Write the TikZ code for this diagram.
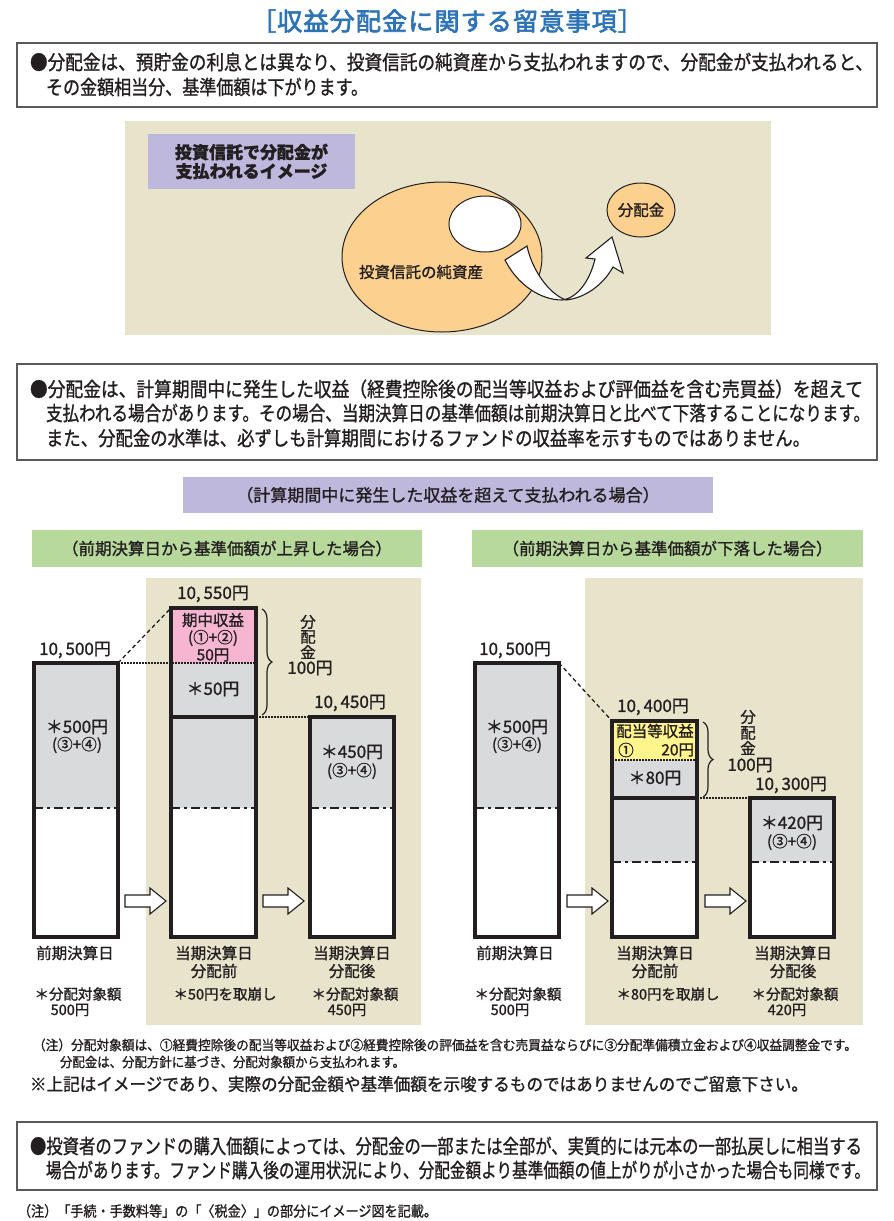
\documentclass[tikz,border=0pt]{standalone}
\usepackage{fontspec}
\setmainfont{Noto Sans CJK JP}[RawFeature={embolden=1.2}]
\newfontfamily\titlefont{Noto Sans CJK JP}[LetterSpace=4, RawFeature={embolden=2.5}]
\usetikzlibrary{shapes.geometric,decorations.pathreplacing}
\definecolor{titleblue}{HTML}{2D73B6}
\definecolor{beige}{HTML}{E8E4CC}
\definecolor{lav}{HTML}{BDB8DC}
\definecolor{orng}{HTML}{FCD08E}
\definecolor{grn}{HTML}{B8D99C}
\definecolor{bargrey}{HTML}{D9DADC}
\definecolor{pnk}{HTML}{F6B6D2}
\definecolor{ylw}{HTML}{FFF58C}
\definecolor{ink}{HTML}{231F20}
\definecolor{boxline}{HTML}{5A5A5A}
\newcommand\fs[2]{\fontsize{#1}{#2}\selectfont}
\newcommand\fitw[2]{\resizebox{#1pt}{\height}{#2}}
\begin{document}
\begin{tikzpicture}[x=1pt,y=-1pt,
  every node/.style={inner sep=0pt, outer sep=0pt, text=ink},
  box/.style={draw=boxline, line width=1.2pt, rectangle, anchor=north west},
  barframe/.style={draw=ink, line width=3.2pt, rectangle, anchor=north west},
  sepline/.style={draw=ink, line width=3.2pt},
  dashdot/.style={draw=ink, line width=2.4pt, dash pattern=on 9pt off 4pt on 3pt off 4pt},
  dotline/.style={draw=ink, line width=1.5pt, dash pattern=on 1.5pt off 1.5pt},
  dashline/.style={draw=ink, line width=1.3pt, dash pattern=on 4pt off 3pt},
  harrow/.style={draw=ink, fill=white, line width=1.1pt, line join=miter},
  bracedeco/.style={draw=ink, line width=1.2pt, decorate, decoration={brace, amplitude=10pt}},
  lbl/.style={font=\fs{15.5}{18}},
  num/.style={font=\fs{17}{18}},
  note/.style={font=\fs{14.5}{16}},
  boxtxt/.style={font=\fs{20}{20}, anchor=west},
]
\useasboundingbox (0,0) rectangle (894,1221);
\fill[white] (0,0) rectangle (894,1221);

% ---------- title ----------
\node[font=\titlefont\fs{25}{26}, text=titleblue] (title) at (447,21) {\fitw{392}{［収益分配金に関する留意事項］}};

% ---------- box 1 ----------
\node[box, minimum width=860, minimum height=64] (box1) at (17,43) {};
\node[boxtxt] (b1l1) at (30,62) {\fitw{843}{●分配金は、預貯金の利息とは異なり、投資信託の純資産から支払われますので、分配金が支払われると、}};
\node[boxtxt] (b1l2) at (46,87) {\fitw{322}{その金額相当分、基準価額は下がります。}};

% ---------- image panel ----------
\fill[beige] (125,121) rectangle (771,335);
\node[fill=lav, minimum width=207, minimum height=55, anchor=north west, align=center, font=\bfseries\fs{17}{19}] (imgtitle) at (148,134) {投資信託で分配金が\\支払われるイメージ};
\node[ellipse, draw=ink, line width=1pt, fill=orng, minimum width=200, minimum height=150] (nav) at (442,257) {};
\node[ellipse, draw=ink, line width=1pt, fill=white, minimum width=72, minimum height=56] (hole) at (485,224) {};
\node[font=\fs{15.5}{16}] (navlbl) at (421,272) {投資信託の純資産};
\node[ellipse, draw=ink, line width=1pt, fill=orng, minimum width=68, minimum height=54, font=\fs{15.5}{16}] (div) at (641,210) {分配金};
\draw[harrow] (505,260) .. controls (517,284) and (540,300) .. (562,300)
  .. controls (578,298) and (590,280) .. (595,259) -- (586,258) -- (612,237) -- (623,273) -- (613,267)
  .. controls (603,285) and (585,298) .. (566,300)
  .. controls (549,294) and (532,270) .. (527,246) -- cycle;

% ---------- box 2 ----------
\node[box, minimum width=860, minimum height=96] (box2) at (17,364) {};
\node[boxtxt] (b2l1) at (30,389) {\fitw{833}{●分配金は、計算期間中に発生した収益（経費控除後の配当等収益および評価益を含む売買益）を超えて}};
\node[boxtxt] (b2l2) at (46,413) {\fitw{824}{支払われる場合があります。その場合、当期決算日の基準価額は前期決算日と比べて下落することになります。}};
\node[boxtxt] (b2l3) at (46,438) {\fitw{764}{また、分配金の水準は、必ずしも計算期間におけるファンドの収益率を示すものではありません。}};

% ---------- headers ----------
\node[fill=lav, minimum width=530, minimum height=36, anchor=north west, font=\fs{17}{18}] (hcase) at (183,477) {（計算期間中に発生した収益を超えて支払われる場合）};
\node[fill=grn, minimum width=390, minimum height=37, anchor=north west, font=\fs{16.5}{18}] (hup) at (32,530) {（前期決算日から基準価額が上昇した場合）};
\node[fill=grn, minimum width=391, minimum height=37, anchor=north west, font=\fs{16.5}{18}] (hdown) at (472,530) {（前期決算日から基準価額が下落した場合）};

% ---------- panels ----------
\fill[beige] (146,578) rectangle (421,1025);
\fill[beige] (585,578) rectangle (863,1025);

% ================= LEFT CASE =================
\fill[bargrey] (34,663) rectangle (118,808);
\fill[white] (34,808) rectangle (118,937);
\draw[dashdot] (34,808) -- (118,808);
\fill[pnk] (171,608) rectangle (256,663);
\fill[bargrey] (171,663) rectangle (256,808);
\fill[white] (171,808) rectangle (256,937);
\draw[dashdot] (171,808) -- (256,808);
\fill[bargrey] (310,717) rectangle (394,808);
\fill[white] (310,808) rectangle (394,937);
\draw[dashdot] (310,808) -- (394,808);

\node[barframe, minimum width=84, minimum height=274] (A) at (34,663) {};
\node[barframe, minimum width=85, minimum height=329] (B) at (171,608) {};
\node[barframe, minimum width=84, minimum height=220] (C) at (310,717) {};
\draw[dotline] (A.north east) -- (A.north east -| B.east);
\draw[sepline] (B.west |- C.north) -- (B.east |- C.north);
\draw[dashline] (A.north east) -- (B.north west);
\draw[dotline] (B.east |- C.north west) -- (C.north west);
\draw[barframe] (A.north west) rectangle (A.south east);
\draw[barframe] (B.north west) rectangle (B.south east);

\draw[bracedeco] (262,609) -- (262,715);

\node[num] (vA) at (75,650) {10,\,500円};
\node[num] (vB) at (213,594) {10,\,550円};
\node[num] (vC) at (350,703) {10,\,450円};
\node[lbl] (pk1) at (213,620) {期中収益};
\node[lbl] (pk2) at (213,638) {(①+②)};
\node[lbl] (pk3) at (213,655) {50円};
\node[num] (g50) at (213,689) {＊50円};
\node[lbl] (dv1) at (308,622) {分};
\node[lbl] (dv2) at (308,637) {配};
\node[lbl] (dv3) at (308,652) {金};
\node[num] (dv4) at (310,668) {100円};
\node[num] (gA1) at (77,727) {＊500円};
\node[lbl] (gA2) at (77,745) {(③+④)};
\node[num] (gC1) at (352,752) {＊450円};
\node[lbl] (gC2) at (352,771) {(③+④)};

\draw[harrow] (125,895) -- (150,895) -- (150,888) -- (166,901) -- (150,914) -- (150,907) -- (125,907) -- cycle;
\draw[harrow] (263,895) -- (288,895) -- (288,888) -- (304,901) -- (288,914) -- (288,907) -- (263,907) -- cycle;

\node[lbl] (tA) at (75,953) {前期決算日};
\node[lbl, align=center, font=\fs{15.5}{18}] (tB) at (214,962) {当期決算日\\分配前};
\node[lbl, align=center, font=\fs{15.5}{18}] (tC) at (352,962) {当期決算日\\分配後};
\node[note] (nA1) at (78,994) {＊分配対象額};
\node[note] (nA2) at (70,1010) {500円};
\node[note] (nB) at (225,994) {＊50円を取崩し};
\node[note] (nC1) at (355,994) {＊分配対象額};
\node[note] (nC2) at (347,1010) {450円};

% ================= RIGHT CASE =================
\fill[bargrey] (475,663) rectangle (559,808);
\fill[white] (475,808) rectangle (559,937);
\draw[dashdot] (475,808) -- (559,808);
\fill[ylw] (612,721) rectangle (697,760);
\fill[bargrey] (612,760) rectangle (697,862);
\fill[white] (612,862) rectangle (697,937);
\draw[dashdot] (612,862) -- (697,862);
\fill[bargrey] (750,798) rectangle (834,862);
\fill[white] (750,862) rectangle (834,937);
\draw[dashdot] (750,862) -- (834,862);

\node[barframe, minimum width=84, minimum height=274] (D) at (475,663) {};
\node[barframe, minimum width=85, minimum height=216] (E) at (612,721) {};
\node[barframe, minimum width=84, minimum height=139] (F) at (750,798) {};
\draw[dotline] (612,760) -- (697,760);
\draw[sepline] (E.west |- F.north) -- (E.east |- F.north);
\draw[dashline] (D.north east) -- (E.north west);
\draw[dotline] (E.east |- F.north west) -- (F.north west);
\draw[barframe] (E.north west) rectangle (E.south east);

\draw[bracedeco] (703,722) -- (703,797);

\node[num] (vD) at (515,650) {10,\,500円};
\node[num] (vE) at (653,707) {10,\,400円};
\node[num] (vF) at (791,785) {10,\,300円};
\node[lbl] (yl1) at (655,731) {配当等収益};
\node[lbl] (yl2) at (626,750) {①};
\node[lbl, anchor=east] (yl3) at (694,750) {20円};
\node[num] (g80) at (655,778) {＊80円};
\node[lbl] (dr1) at (748,717) {分};
\node[lbl] (dr2) at (748,733) {配};
\node[lbl] (dr3) at (748,748) {金};
\node[num] (dr4) at (750,765) {100円};
\node[num] (gD1) at (517,727) {＊500円};
\node[lbl] (gD2) at (517,745) {(③+④)};
\node[num] (gF1) at (792,823) {＊420円};
\node[lbl] (gF2) at (792,842) {(③+④)};

\draw[harrow] (567,895) -- (592,895) -- (592,888) -- (608,901) -- (592,914) -- (592,907) -- (567,907) -- cycle;
\draw[harrow] (705,895) -- (730,895) -- (730,888) -- (746,901) -- (730,914) -- (730,907) -- (705,907) -- cycle;

\node[lbl] (tD) at (515,953) {前期決算日};
\node[lbl, align=center, font=\fs{15.5}{18}] (tE) at (655,962) {当期決算日\\分配前};
\node[lbl, align=center, font=\fs{15.5}{18}] (tF) at (793,962) {当期決算日\\分配後};
\node[note] (nD1) at (518,994) {＊分配対象額};
\node[note] (nD2) at (510,1010) {500円};
\node[note] (nE) at (668,994) {＊80円を取崩し};
\node[note] (nF1) at (795,994) {＊分配対象額};
\node[note] (nF2) at (787,1010) {420円};

% ---------- notes ----------
\node[anchor=west, font=\fs{13.5}{14}] (n1) at (33,1045) {\fitw{824}{（注）分配対象額は、①経費控除後の配当等収益および②経費控除後の評価益を含む売買益ならびに③分配準備積立金および④収益調整金です。}};
\node[anchor=west, font=\fs{13.5}{14}] (n2) at (60,1062) {\fitw{345}{分配金は、分配方針に基づき、分配対象額から支払われます。}};
\node[anchor=west, font=\fs{17.5}{18}] (n3) at (30,1084) {\fitw{778}{※上記はイメージであり、実際の分配金額や基準価額を示唆するものではありませんのでご留意下さい。}};

% ---------- box 3 ----------
\node[box, minimum width=860, minimum height=68] (box3) at (17,1122) {};
\node[boxtxt] (b3l1) at (30,1146) {\fitw{832}{●投資者のファンドの購入価額によっては、分配金の一部または全部が、実質的には元本の一部払戻しに相当する}};
\node[boxtxt] (b3l2) at (46,1170) {\fitw{824}{場合があります。ファンド購入後の運用状況により、分配金額より基準価額の値上がりが小さかった場合も同様です。}};

\node[anchor=west, font=\fs{14.5}{16}] (n4) at (18,1211) {\fitw{419}{（注）「手続・手数料等」の「〈税金〉」の部分にイメージ図を記載。}};
\end{tikzpicture}
\end{document}
